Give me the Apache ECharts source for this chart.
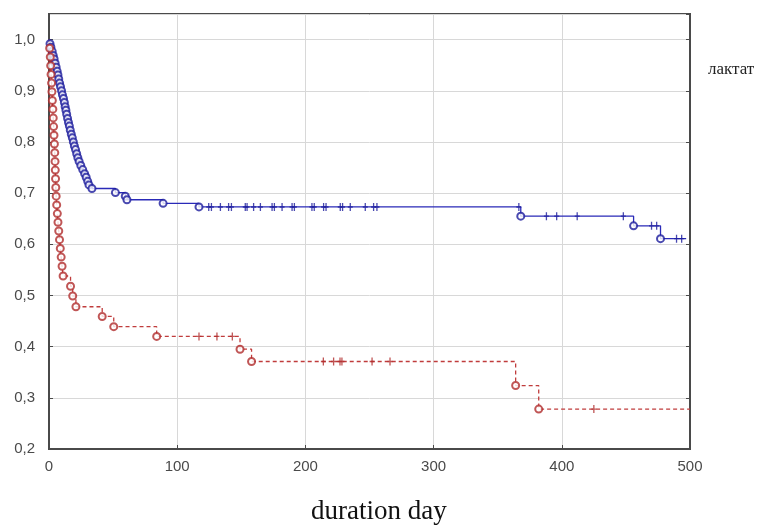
<!DOCTYPE html>
<html>
<head>
<meta charset="utf-8">
<script src="https://cdn.jsdelivr.net/npm/echarts@6/dist/echarts.min.js"></script>
<style>
html,body{margin:0;padding:0;background:#fff;}
#c{width:771px;height:526px;}
</style>
</head>
<body>
<div id="c"></div>
<script>
// ---- data ----
const xTicks = [0, 100, 200, 300, 400, 500];
const yTicks = [0.2, 0.3, 0.4, 0.5, 0.6, 0.7, 0.8, 0.9, 1.0];

// blue group: event times and survival after each event
const blueTimes = [0.8,1.5,2.5,3.3,4,4.8,5.6,6.4,7,7.6,8.3,9,9.8,10.5,11.3,12,12.6,13.2,13.8,14.5,15.2,15.9,16.6,17.4,18.2,19,19.8,20.7,21.6,22.5,23.5,24.8,26.3,27.8,29,30.2,31.2,33.5,51.8,59.5,60.8,89,117,368,456,477];
const blueSurv  = [0.992,0.985,0.977,0.969,0.962,0.954,0.946,0.938,0.931,0.923,0.915,0.908,0.900,0.892,0.885,0.877,0.869,0.862,0.854,0.846,0.838,0.831,0.823,0.815,0.808,0.800,0.792,0.785,0.777,0.769,0.762,0.754,0.746,0.738,0.731,0.723,0.716,0.709,0.701,0.694,0.687,0.680,0.673,0.655,0.636,0.611];
const blueCensored = [124.6,126.7,133.7,140.1,142.3,153.1,154.5,159.6,164.9,174,175.8,181.8,189.6,191.4,205.1,206.9,214.2,216.1,227.2,229,235,246.7,253.2,255.8,366.5,388,396,412,448,470,474,489.5,493.5];
const blueEnd = 497;

// red group
const redTimes = [0.5,1,1.3,1.6,2,2.3,2.6,3,3.3,3.6,3.9,4.2,4.5,4.7,4.9,5.1,5.3,5.6,6,6.5,7,7.6,8.2,8.8,9.5,10.2,11,16.8,18.5,21,41.5,50.5,84,149,158,364,382];
const redSurv  = [0.983,0.966,0.949,0.932,0.915,0.898,0.881,0.864,0.847,0.830,0.813,0.796,0.779,0.762,0.745,0.728,0.711,0.694,0.677,0.660,0.643,0.626,0.609,0.592,0.575,0.557,0.538,0.518,0.499,0.478,0.459,0.439,0.420,0.395,0.371,0.324,0.278];
const redCensored = [117,131,143,214,222,227,228.5,252,266,425];
const redEnd = 500;

const legendLabel = 'лактат';
const xTitle = 'duration day';

// ---- helpers ----
function stepData(times, surv, end) {
  const d = [[0, 1]];
  times.forEach((t, i) => d.push([t, surv[i]]));
  d.push([end, surv[surv.length - 1]]);
  return d;
}
function levelAt(times, surv, t) {
  let v = 1;
  for (let i = 0; i < times.length; i++) if (times[i] <= t) v = surv[i];
  return v;
}
const eventPts = (times, surv) => times.map((t, i) => [t, surv[i]]);
const censorPts = (cens, times, surv) => cens.map(t => [t, levelAt(times, surv, t)]);

const BLUE = '#2a2ab8';
const BLUE_DARK = '#1c1c9c';
const RED = '#c03c3c';
const RED_DARK = '#b02c2c';
const plusPath = 'path://M2,0h1.4v8h-1.4zM0,3.3h5.4v1.4h-5.4z';

const chart = echarts.init(document.getElementById('c'), null, {renderer: 'canvas'});
const fmtY = v => {
  const r = Math.round(v * 10);
  if (Math.abs(v * 10 - r) > 1e-6) return '';
  return (r / 10).toFixed(1).replace('.', ',');
};
chart.setOption({
  animation: false,
  backgroundColor: '#ffffff',
  grid: {left: 49, right: 81, top: 14, bottom: 77, show: true, borderColor: '#4a4a4a', borderWidth: 2, backgroundColor: 'transparent'},
  xAxis: {
    type: 'value', min: xTicks[0], max: xTicks[xTicks.length - 1], interval: 100,
    axisLine: {show: true, lineStyle: {color: '#4a4a4a', width: 2}},
    axisTick: {show: true, inside: true, length: 4, lineStyle: {color: '#4a4a4a'}},
    axisLabel: {color: '#4a4a4a', fontSize: 15, fontFamily: 'Liberation Sans, Arial, sans-serif', margin: 10},
    splitLine: {show: true, lineStyle: {color: '#d8d8d8', width: 1}}
  },
  yAxis: [{
    type: 'value', min: yTicks[0], max: 1.05, interval: 0.1,
    axisLine: {show: true, lineStyle: {color: '#4a4a4a', width: 2}},
    axisTick: {show: true, inside: true, length: 4, lineStyle: {color: '#4a4a4a'}},
    axisLabel: {color: '#4a4a4a', fontSize: 15, fontFamily: 'Liberation Sans, Arial, sans-serif', margin: 14, formatter: fmtY, showMaxLabel: false},
    splitLine: {show: true, lineStyle: {color: '#d8d8d8', width: 1}}
  }, {
    type: 'value', min: yTicks[0], max: 1.05, interval: 0.1, position: 'right',
    axisLine: {show: true, lineStyle: {color: '#4a4a4a', width: 2}},
    axisTick: {show: true, inside: true, length: 4, lineStyle: {color: '#4a4a4a'}},
    axisLabel: {show: false}, splitLine: {show: false}
  }],
  graphic: [
    {type: 'text', left: 708, top: 61, style: {text: legendLabel, font: '17px "Liberation Serif", "DejaVu Serif", serif', fill: '#222'}},
    {type: 'text', left: 384 - 73, top: 498, style: {text: xTitle, font: '27px "Liberation Serif", "DejaVu Serif", serif', fill: '#111'}}
  ],
  series: [
    {type: 'line', step: 'end', data: stepData(blueTimes, blueSurv, blueEnd), showSymbol: false, lineStyle: {color: BLUE, width: 1.3}, z: 3},
    {type: 'line', step: 'end', data: stepData(redTimes, redSurv, redEnd), showSymbol: false, lineStyle: {color: RED, width: 1.3, type: [4, 3]}, z: 3},
    {type: 'scatter', data: eventPts(blueTimes, blueSurv), symbol: 'emptyCircle', symbolSize: 7, itemStyle: {color: BLUE_DARK, borderColor: BLUE_DARK, borderWidth: 2}, z: 5},
    {type: 'scatter', data: censorPts(blueCensored, blueTimes, blueSurv), symbol: plusPath, symbolSize: [5, 8], itemStyle: {color: BLUE_DARK}, z: 5},
    {type: 'scatter', data: eventPts(redTimes, redSurv), symbol: 'emptyCircle', symbolSize: 7, itemStyle: {color: RED_DARK, borderColor: RED_DARK, borderWidth: 1.8}, z: 6},
    {type: 'scatter', data: censorPts(redCensored, redTimes, redSurv), symbol: plusPath, symbolSize: [5, 8], itemStyle: {color: RED_DARK}, z: 6}
  ]
});
</script>
</body>
</html>
